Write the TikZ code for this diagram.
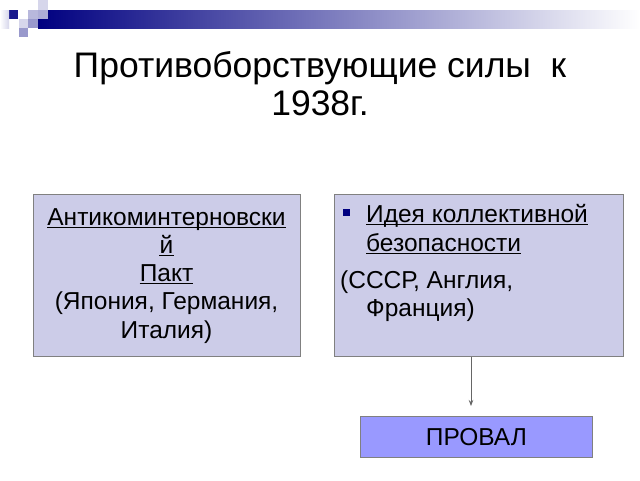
\documentclass[tikz,border=0pt]{standalone}
\usepackage{fontspec}
\setmainfont{Liberation Sans}
\usetikzlibrary{arrows.meta,calc}
\definecolor{boxfill}{HTML}{CCCCE8}
\definecolor{provfill}{HTML}{9999FF}
\definecolor{navy}{HTML}{000080}
\definecolor{sqpale}{HTML}{D6D6EB}
\definecolor{sqmid}{HTML}{9999CC}
\definecolor{sqlight}{HTML}{B8B8DC}
\definecolor{bordergray}{HTML}{808080}
\newcommand{\ulineof}[1]{\draw[ulstyle] ($(#1.base west)+(0,2.5)$) -- ($(#1.base east)+(0,2.5)$);}
\tikzset{
  panel/.style={draw=bordergray, fill=boxfill, line width=0.8pt, inner sep=0pt},
  provbox/.style={draw=bordergray, fill=provfill, line width=0.8pt, inner sep=0pt,
    font=\fontsize{24.5}{29}\selectfont, text height=17.5pt, text depth=0pt},
  txt/.style={anchor=base, inner sep=0pt, font=\fontsize{24.5}{29}\selectfont},
  ltxt/.style={txt, anchor=base west},
  ttl/.style={anchor=base, inner sep=0pt, font=\fontsize{35.5}{40}\selectfont},
  conn/.style={draw=black!60, line width=0.8pt, -{Stealth[length=6pt,width=4.5pt]}},
  ulstyle/.style={draw=black, line width=1.4pt},
  sq/.style={draw=none}
}
\begin{document}
\begin{tikzpicture}[x=1pt,y=-1pt]
\useasboundingbox[fill=white] (0,0) rectangle (640,480);
% decoration
\shade[left color=navy, right color=white] (38,10) rectangle (640,28);
\fill[sqpale] (38,0) rectangle (48,9.5);
\fill[navy!90] (9,10) rectangle (18,19);
\fill[sqlight] (28,10) rectangle (38,19);
\fill[sqmid!80] (38,10) rectangle (48,19);
\fill[sqpale] (19,19) rectangle (28,28);
\fill[sqmid] (28,19) rectangle (38,28);
\fill[sqmid] (19,28) rectangle (28,37);
\shade[left color=white, right color=sqpale] (0,10) rectangle (9,28);
% title
\node[ttl] (t1) at (320,77) {Противоборствующие силы\ \ к};
\node[ttl] (t2) at (320,115) {1938г.};
% boxes
\node[panel, anchor=north west, minimum width=267pt, minimum height=162pt] (left) at (33,194) {};
\node[panel, anchor=north west, minimum width=289pt, minimum height=162pt] (right) at (334,194) {};
\node[provbox, anchor=north west, minimum width=232pt, minimum height=41pt] (prov) at (360,416) {ПРОВАЛ};
% left text
\node[txt] (l1) at (166.5,225) {Антикоминтерновски};
\node[txt] (l2) at (166.5,253) {й};
\node[txt] (l3) at (166.5,281) {Пакт};
\node[txt] (l4) at (166.5,309) {(Япония, Германия,};
\node[txt] (l5) at (166.5,338) {Италия)};
\ulineof{l1}
\ulineof{l2}
\ulineof{l3}
% right text
\node[sq, fill=navy, minimum size=7pt, inner sep=0pt] (bul) at (346,212) {};
\node[ltxt] (r1) at (366,222) {Идея коллективной};
\node[ltxt] (r2) at (366,251) {безопасности};
\node[ltxt] (r3) at (340,288) {(СССР, Англия,};
\node[ltxt] (r4) at (366,316) {Франция)};
\ulineof{r1}
\ulineof{r2}
% connector
\coordinate (ax) at (471,0);
\draw[conn] (right.south -| ax) -- ($(prov.north -| ax)+(0,-10)$);
\end{tikzpicture}
\end{document}
